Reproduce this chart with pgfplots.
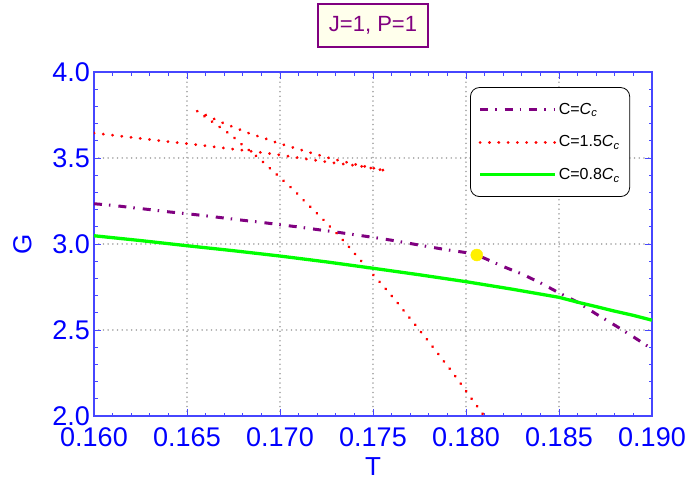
\documentclass[border=0pt]{standalone}
\usepackage{fontspec}
\setmainfont{Liberation Sans}
\usepackage{pgfplots}
\pgfplotsset{compat=1.18}
\definecolor{frameblue}{RGB}{70,70,255}
\definecolor{mypurple}{RGB}{128,0,128}
\definecolor{myred}{RGB}{255,0,0}
\definecolor{mygreen}{RGB}{0,255,0}
\definecolor{myyellow}{RGB}{255,240,0}
\definecolor{gridgray}{RGB}{170,170,170}
\definecolor{titlebg}{RGB}{255,255,236}

\pgfplotstableread{
T G
0.1600 3.234
0.1610 3.225
0.1620 3.212
0.1630 3.200
0.1640 3.187
0.1650 3.176
0.1660 3.164
0.1670 3.151
0.1680 3.138
0.1690 3.126
0.1700 3.112
0.1710 3.099
0.1720 3.084
0.1730 3.070
0.1740 3.054
0.1750 3.039
0.1760 3.022
0.1770 3.003
0.1780 2.984
0.1790 2.966
0.1800 2.950
0.1806 2.934
0.1810 2.917
0.1820 2.869
0.1830 2.826
0.1840 2.774
0.1850 2.716
0.1860 2.662
0.1870 2.593
0.1880 2.528
0.1890 2.460
0.1900 2.390
}\crit

\pgfplotstableread{
T G
0.1600 3.645
0.1620 3.620
0.1632 3.605
0.1640 3.595
0.1653 3.580
0.1660 3.571
0.1673 3.554
0.1680 3.545
0.1698 3.521
0.1713 3.496
0.1728 3.473
0.1743 3.453
0.1757 3.426
0.1742 3.459
0.1727 3.498
0.17125 3.543
0.1698 3.590
0.16932 3.609
0.16883 3.626
0.16835 3.643
0.16789 3.663
0.16744 3.682
0.16695 3.703
0.1662 3.740
0.16554 3.773
0.1666 3.692
0.16704 3.659
0.16744 3.628
0.16781 3.591
0.16821 3.556
0.16860 3.522
0.16898 3.488
0.16937 3.449
0.16975 3.411
0.17012 3.374
0.17050 3.337
0.17088 3.298
0.17122 3.260
0.17158 3.221
0.17195 3.182
0.17230 3.144
0.17265 3.105
0.17301 3.066
0.17335 3.027
0.17370 2.984
0.17435 2.903
0.17502 2.820
0.17538 2.777
0.17570 2.737
0.17604 2.694
0.17637 2.651
0.17668 2.609
0.17700 2.566
0.17733 2.523
0.17763 2.481
0.17796 2.438
0.17826 2.395
0.17858 2.351
0.17888 2.308
0.17919 2.266
0.17949 2.221
0.17980 2.176
0.18009 2.132
0.18039 2.087
0.18070 2.042
0.18100 1.997
}\high

\pgfplotstableread{
T G
0.1600 3.048
0.1625 3.020
0.1650 2.990
0.1675 2.961
0.1700 2.930
0.1725 2.896
0.1750 2.859
0.1775 2.821
0.1800 2.781
0.1825 2.737
0.1850 2.690
0.1861 2.659
0.1870 2.636
0.1879 2.612
0.1890 2.585
0.1900 2.557
}\low

\begin{document}
\begin{tikzpicture}
\useasboundingbox (-94pt,-72pt) rectangle (593pt,416pt);
\begin{axis}[
  at={(0pt,0pt)}, anchor=south west,
  scale only axis, width=558pt, height=344pt,
  xmin=0.160, xmax=0.190, ymin=2.0, ymax=4.0,
  xtick={0.160,0.165,0.170,0.175,0.180,0.185,0.190},
  ytick={2.0,2.5,3.0,3.5,4.0},
  minor x tick num=4, minor y tick num=4,
  tick align=inside,
  major tick length=7pt, minor tick length=3.5pt,
  every tick/.style={frameblue, line width=0.8pt},
  axis line style={frameblue, line width=1.2pt},
  grid=major,
  major grid style={gridgray, line width=1.6pt, line cap=round, dash pattern=on 0.1pt off 4.6pt},
  /pgf/number format/assume math mode=true,
  ticklabel style={font=\fontsize{27}{30}\selectfont, text=blue},
  xticklabel style={/pgf/number format/.cd, fixed, fixed zerofill, precision=3, /tikz/.cd, inner ysep=0pt, yshift=-11pt},
  yticklabel style={/pgf/number format/.cd, fixed, fixed zerofill, precision=1, /tikz/.cd, inner xsep=0pt, xshift=-4pt},
  xlabel={T}, ylabel={G},
  label style={font=\fontsize{26}{30}\selectfont, text=blue},
  x label style={at={([yshift=-51pt]axis description cs:0.5,0)}, anchor=center},
  y label style={at={([xshift=-71.5pt]axis description cs:0,0.5)}, anchor=center, rotate=0},
  title={J=1, P=1},
  title style={at={([yshift=40.5pt]axis description cs:0.5,1)}, anchor=center, draw=mypurple, fill=titlebg, line width=1.5pt, text=mypurple, font=\fontsize{22}{26}\selectfont, minimum width=110pt, minimum height=43pt, inner sep=0pt},
  legend style={at={(0.674,0.956)}, anchor=north west, draw=black, line width=0.8pt, rounded corners=9pt, fill=white, font=\fontsize{16}{19}\selectfont, inner xsep=8pt, inner ysep=13.5pt, row sep=16pt, /tikz/every even column/.append style={column sep=3pt}},
  legend cell align=left,
  legend image code/.code={\draw[#1, mark=none] (0pt,0pt) -- (75pt,0pt);},
]
\addplot[mypurple, line width=3pt, dash pattern=on 8pt off 7pt on 1.5pt off 8pt] table[x=T,y=G] {\crit};
\addlegendentry{C=\textit{C}\textsubscript{\textit{c}}}
\addplot[myred, line width=3pt, line cap=round, dash pattern=on 0.1pt off 9.2pt] table[x=T,y=G] {\high};
\addlegendentry{C=1.5\textit{C}\textsubscript{\textit{c}}}
\addplot[mygreen, line width=3.3pt] table[x=T,y=G] {\low};
\addlegendentry{C=0.8\textit{C}\textsubscript{\textit{c}}}
\addplot[only marks, mark=*, mark size=6pt, color=myyellow, mark options={draw=myyellow, fill=myyellow}, forget plot] coordinates {(0.18058,2.936)};
\end{axis}
\end{tikzpicture}
\end{document}
